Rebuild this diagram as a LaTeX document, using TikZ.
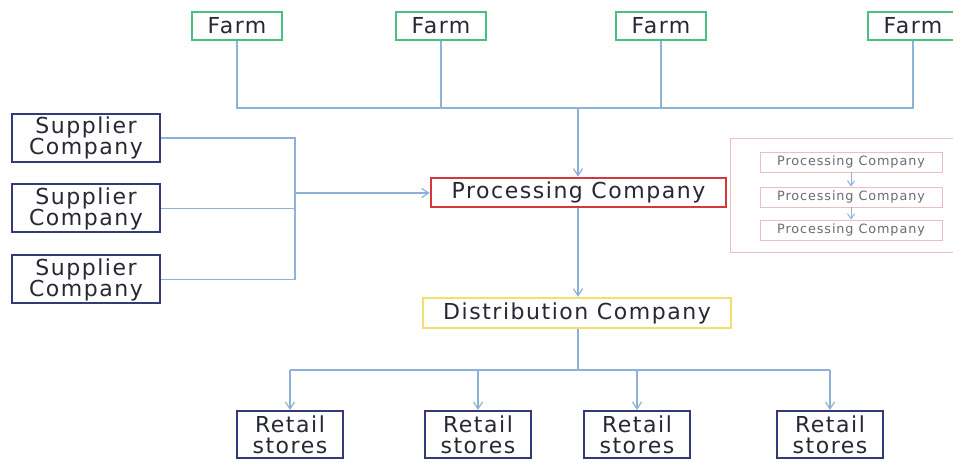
\documentclass[tikz,border=0pt]{standalone}
\usepackage{fontspec}
\newfontfamily\labfont[LetterSpace=7]{DejaVu Sans}
\usetikzlibrary{arrows.meta}
\definecolor{linkblue}{RGB}{140,178,218}
\definecolor{farmgreen}{RGB}{72,192,128}
\definecolor{navyedge}{RGB}{52,58,120}
\definecolor{procred}{RGB}{212,56,60}
\definecolor{distyellow}{RGB}{244,222,110}
\definecolor{softpink}{RGB}{236,190,196}
\definecolor{inktext}{RGB}{38,40,52}
\definecolor{greytext}{RGB}{105,107,118}
\tikzset{
  box/.style={draw, rectangle, inner sep=0pt, align=center, text=inktext,
    font=\labfont\fontsize{22}{21}\selectfont},
  farmbox/.style={box, draw=farmgreen, line width=2pt, minimum width=90pt, minimum height=28pt},
  supbox/.style={box, draw=navyedge, line width=2pt, minimum width=148pt, minimum height=48pt},
  retailbox/.style={box, draw=navyedge, line width=2pt, minimum width=106pt, minimum height=47pt},
  procbox/.style={box, draw=procred, line width=2.5pt, minimum width=295pt, minimum height=29pt},
  distbox/.style={box, draw=distyellow, line width=2.2pt, minimum width=308pt, minimum height=30pt},
  minibox/.style={box, draw=softpink, line width=0.9pt, minimum width=182pt, minimum height=20pt,
    text=greytext, font=\labfont\fontsize{12.8}{14}\selectfont},
  framebox/.style={draw=softpink, line width=0.9pt, rectangle, inner sep=0pt,
    minimum width=230pt, minimum height=114pt},
  conn/.style={draw=linkblue, line width=1.3pt},
  arr/.style={conn, -{Straight Barb[length=7pt,width=9pt,line width=1.2pt]}},
  smallarr/.style={conn, line width=1pt, -{Straight Barb[length=5pt,width=7pt,line width=1pt]}}
}
\begin{document}
\begin{tikzpicture}[x=1pt,y=-1pt]
\useasboundingbox[fill=white] (0,0) rectangle (953,462);

% farms along the top
\node[farmbox] (f1) at (237,26) {Farm};
\node[farmbox] (f2) at (441,26) {Farm};
\node[farmbox] (f3) at (661,26) {Farm};
\node[farmbox] (f4) at (913,26) {Farm};

% suppliers on the left
\node[supbox] (s1) at (86,138) {Supplier\\Company};
\node[supbox] (s2) at (86,208.5) {Supplier\\Company};
\node[supbox] (s3) at (86,279.5) {Supplier\\Company};

% main chain
\node[procbox] (proc) at (578.5,192.5) {Processing Company};
\node[distbox] (dist) at (577,313) {Distribution Company};

% retail stores
\node[retailbox] (r1) at (290,434.5) {Retail\\stores};
\node[retailbox] (r2) at (478,434.5) {Retail\\stores};
\node[retailbox] (r3) at (637,434.5) {Retail\\stores};
\node[retailbox] (r4) at (830,434.5) {Retail\\stores};

% chained processing inset
\node[framebox] (inset) at (845,195) {};
\node[minibox] (p1) at (851,162) {Processing Company};
\node[minibox] (p2) at (851,197) {Processing Company};
\node[minibox] (p3) at (851,230) {Processing Company};

% junction points
\coordinate (fj) at (578,108);
\coordinate (sj) at (295,193);
\coordinate (rj) at (578,370);

% farms into processing
\draw[conn] (f1.south) -- (f1.south |- fj) -- (f4.south |- fj) -- (f4.south);
\draw[conn] (f2.south) -- (f2.south |- fj);
\draw[conn] (f3.south) -- (f3.south |- fj);
\draw[arr] (fj) -- (fj |- proc.north);

% suppliers into processing
\draw[conn] (s1.east) -- (s1.east -| sj) -- (s3.east -| sj) -- (s3.east);
\draw[conn] (s2.east) -- (s2.east -| sj);
\draw[arr] (sj) -- (sj -| proc.west);

% processing to distribution
\draw[arr] (proc.south -| fj) -- (dist.north -| fj);

% distribution to retail
\draw[conn] (dist.south -| rj) -- (rj);
\draw[conn] (r1.north |- rj) -- (r4.north |- rj);
\draw[arr] (r1.north |- rj) -- (r1.north);
\draw[arr] (r2.north |- rj) -- (r2.north);
\draw[arr] (r3.north |- rj) -- (r3.north);
\draw[arr] (r4.north |- rj) -- (r4.north);

% inset arrows
\draw[smallarr] (p1.south) -- (p2.north);
\draw[smallarr] (p2.south) -- (p3.north);
\end{tikzpicture}
\end{document}
